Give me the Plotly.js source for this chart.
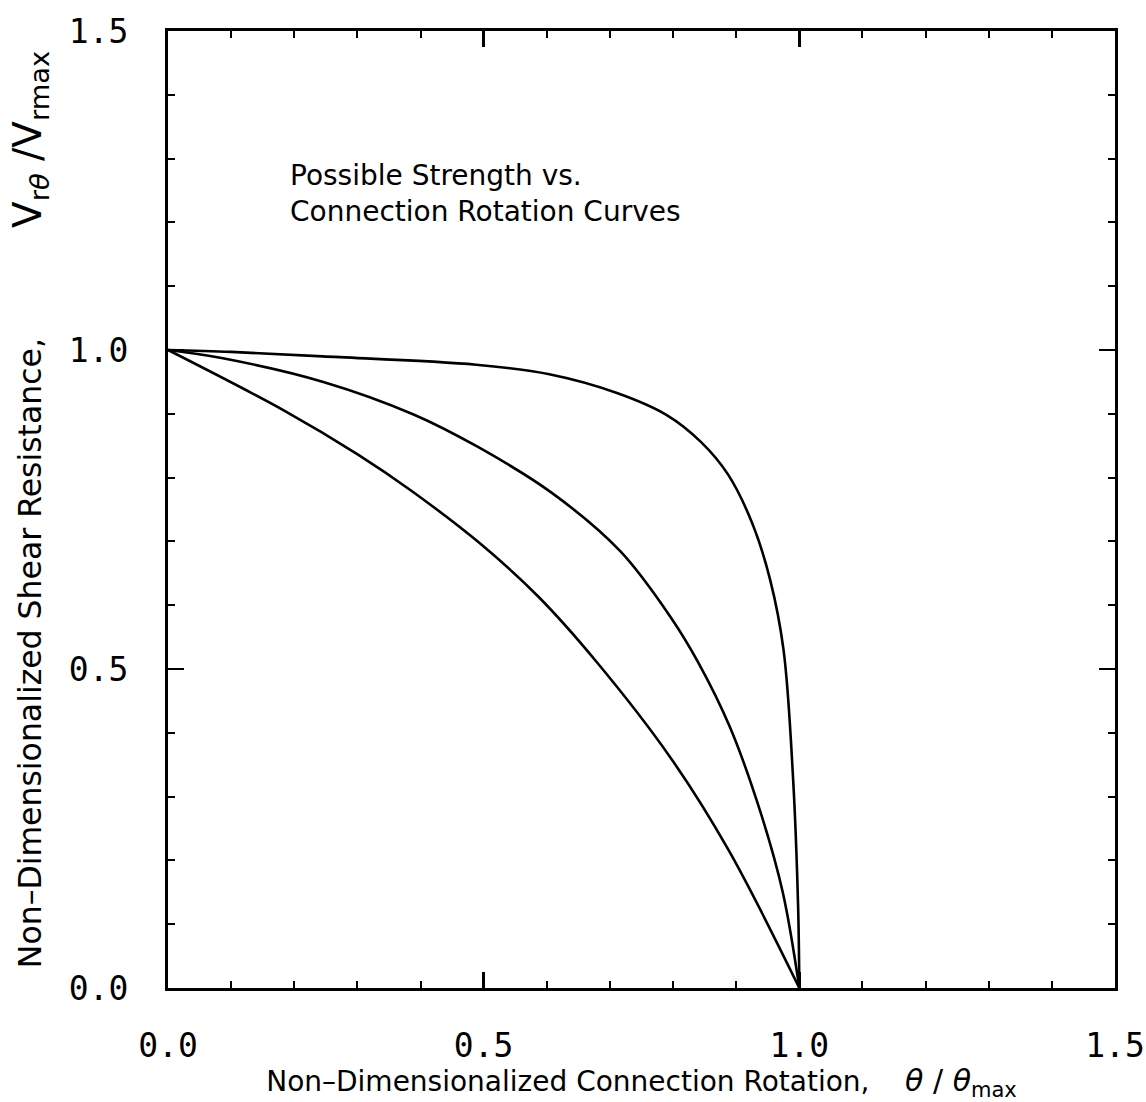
<!DOCTYPE html>
<html>
<head>
<meta charset="utf-8">
<script src="https://cdn.plot.ly/plotly-3.0.1.min.js"></script>
<style>
  html, body { margin: 0; padding: 0; background: #fff; }
  #chart { width: 1146px; height: 1102px; }
</style>
</head>
<body>
<div id="chart"></div>
<script>
// Curve values (theta/theta_max , V/Vmax)
const upperX = [0, 0.10, 0.245, 0.488, 0.604, 0.710, 0.790, 0.844, 0.887, 0.926, 0.954, 0.975, 0.990, 0.998, 1.0];
const upperY = [1.0, 0.997, 0.990, 0.977, 0.962, 0.933, 0.898, 0.856, 0.805, 0.727, 0.639, 0.530, 0.330, 0.130, 0.0];

const middleX = [0, 0.087, 0.246, 0.389, 0.491, 0.608, 0.716, 0.797, 0.840, 0.890, 0.939, 0.974, 1.0];
const middleY = [1.0, 0.987, 0.950, 0.899, 0.848, 0.776, 0.685, 0.580, 0.510, 0.409, 0.274, 0.149, 0.0];

const lowerX = [0, 0.184, 0.301, 0.386, 0.494, 0.586, 0.679, 0.796, 0.888, 1.0];
const lowerY = [1.0, 0.905, 0.836, 0.779, 0.697, 0.614, 0.511, 0.361, 0.216, 0.0];

const tickVals = [0, 0.5, 1.0, 1.5];
const tickText = ['0.0', '0.5', '1.0', '1.5'];

const noteText = 'Possible Strength vs.<br>Connection Rotation Curves';
const xTitle = '\u00a0\u00a0\u00a0\u00a0\u00a0\u00a0\u00a0\u00a0Non\u2013Dimensionalized Connection Rotation,\u00a0\u00a0\u00a0 <span style="font-size:30px"><i>\u03b8</i> / <i>\u03b8</i><sub>max</sub></span>';
const yTitle = 'Non\u2013Dimensionalized Shear Resistance,\u00a0\u00a0\u00a0\u00a0\u00a0\u00a0\u00a0\u00a0\u00a0\u00a0 <span style="font-size:39px">V<sub>r<i>\u03b8</i></sub> /V<sub>rmax</sub></span>';

const lineStyle = {color: '#000', width: 2.6, shape: 'spline', smoothing: 1.0};

const traces = [
  {x: upperX, y: upperY, mode: 'lines', line: lineStyle, name: 'upper', hoverinfo: 'skip'},
  {x: middleX, y: middleY, mode: 'lines', line: lineStyle, name: 'middle', hoverinfo: 'skip'},
  {x: lowerX, y: lowerY, mode: 'lines', line: lineStyle, name: 'lower', hoverinfo: 'skip'}
];

const tickFont = {family: 'DejaVu Sans Mono, Liberation Mono, monospace', size: 33, color: '#000'};
const axisCommon = {
  range: [0, 1.5],
  tickmode: 'array',
  tickvals: tickVals,
  ticktext: tickText,
  ticks: 'inside',
  ticklen: 16,
  tickwidth: 2.5,
  tickcolor: '#000',
  showline: true,
  linecolor: '#000',
  linewidth: 3,
  mirror: 'allticks',
  showgrid: false,
  zeroline: false,
  tickfont: tickFont,
  minor: {dtick: 0.1, tick0: 0, ticks: 'inside', ticklen: 7, tickwidth: 2, tickcolor: '#000', showgrid: false},
  fixedrange: true
};

const layout = {
  width: 1146,
  height: 1102,
  margin: {l: 168, r: 31, t: 31, b: 114},
  paper_bgcolor: '#fff',
  plot_bgcolor: '#fff',
  showlegend: false,
  xaxis: Object.assign({}, axisCommon, {
    ticklabelstandoff: 26,
    title: {text: xTitle, standoff: 0, font: {family: 'DejaVu Sans, sans-serif', size: 28, color: '#000'}}
  }),
  yaxis: Object.assign({}, axisCommon, {
    ticklabelstandoff: 30,
    title: {text: yTitle, standoff: 18, font: {family: 'DejaVu Sans, sans-serif', size: 31.5, color: '#000'}}
  }),
  annotations: [{
    text: noteText,
    x: 0.19, y: 1.302, xref: 'x', yref: 'y',
    xanchor: 'left', yanchor: 'top', align: 'left',
    showarrow: false,
    font: {family: 'DejaVu Sans, sans-serif', size: 28, color: '#000'}
  }]
};

Plotly.newPlot('chart', traces, layout, {staticPlot: true, displayModeBar: false});
</script>
</body>
</html>
